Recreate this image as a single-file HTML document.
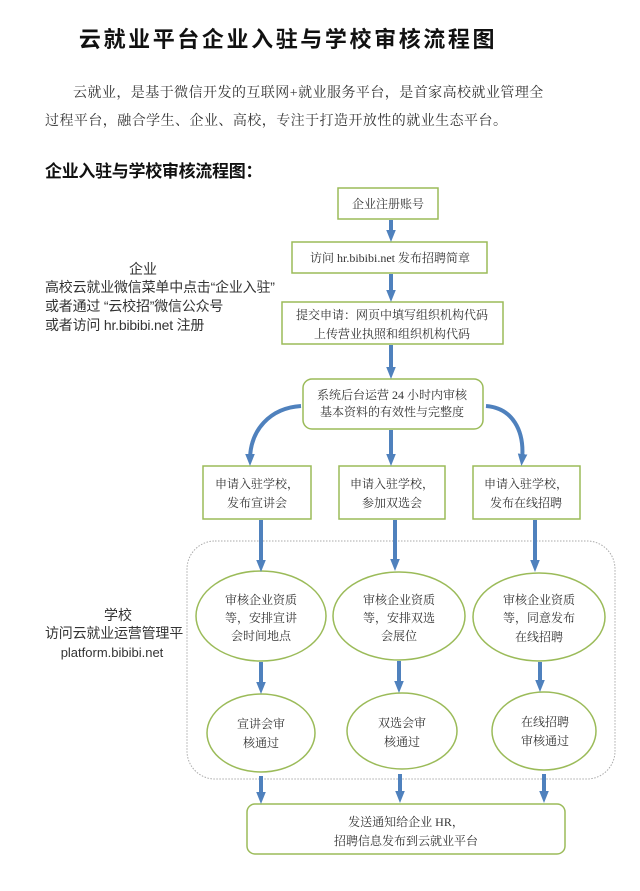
<!DOCTYPE html>
<html><head><meta charset="utf-8"><style>
html,body{margin:0;padding:0;background:#fff;}
body{width:640px;height:891px;overflow:hidden;position:relative;}
svg{position:absolute;left:0;top:0;}
text{font-family:"Liberation Sans","Noto Sans CJK SC",sans-serif;fill:#333;}
.s{font-family:"Liberation Serif","Noto Serif CJK SC",serif;}
</style></head><body>
<svg width="640" height="891" viewBox="0 0 640 891" xmlns="http://www.w3.org/2000/svg">
<defs>
<marker id="ah" markerWidth="3" markerHeight="3" refX="1.5" refY="1.5" orient="auto" markerUnits="strokeWidth">
<path d="M0,0.3 L3,1.5 L0,2.7 z" fill="#4f81bd"/>
</marker>
</defs>
<text x="288" y="47" text-anchor="middle" font-size="22" font-weight="bold" letter-spacing="2.6" style="fill:#111">云就业平台企业入驻与学校审核流程图</text>
<text class="s" x="73" y="97" font-size="14" letter-spacing="0.45">云就业，是基于微信开发的互联网+就业服务平台，是首家高校就业管理全</text>
<text class="s" x="45" y="125" font-size="14" letter-spacing="0.45">过程平台，融合学生、企业、高校，专注于打造开放性的就业生态平台。</text>
<text x="45" y="177" font-size="17" font-weight="bold" letter-spacing="-0.3" style="fill:#111">企业入驻与学校审核流程图：</text>

<text x="143" y="274" text-anchor="middle" font-size="14">企业</text>
<text x="45" y="292" font-size="14" letter-spacing="-0.2">高校云就业微信菜单中点击“企业入驻”</text>
<text x="45" y="311" font-size="14" letter-spacing="-0.2">或者通过 “云校招”微信公众号</text>
<text x="45" y="330" font-size="14" letter-spacing="-0.2">或者访问 hr.bibibi.net 注册</text>

<text x="118" y="620" text-anchor="middle" font-size="14">学校</text>
<text x="45" y="638" font-size="14" letter-spacing="-0.2">访问云就业运营管理平</text>
<text x="112" y="657" text-anchor="middle" font-size="13">platform.bibibi.net</text>

<g fill="#fff" stroke="#9bbb59" stroke-width="1.5">
<rect x="338" y="188" width="100" height="31"/>
<rect x="292" y="242" width="195" height="31"/>
<rect x="282" y="302" width="221" height="42"/>
<rect x="303" y="379" width="180" height="50" rx="9"/>
<rect x="203" y="466" width="108" height="53"/>
<rect x="339" y="466" width="106" height="53"/>
<rect x="473" y="466" width="107" height="53"/>
<rect x="247" y="804" width="318" height="50" rx="8"/>
</g>
<rect x="187" y="541" width="428" height="238" rx="28" fill="none" stroke="#aaa" stroke-width="1" stroke-dasharray="1.5,1.5"/>
<g fill="#fff" stroke="#9bbb59" stroke-width="1.5">
<ellipse cx="261" cy="616" rx="65" ry="45"/>
<ellipse cx="399" cy="616" rx="66" ry="44"/>
<ellipse cx="539" cy="617" rx="66" ry="44"/>
<ellipse cx="261" cy="733" rx="54" ry="39"/>
<ellipse cx="402" cy="731" rx="55" ry="38"/>
<ellipse cx="544" cy="731" rx="52" ry="39"/>
</g>

<g stroke="#4f81bd" stroke-width="4" fill="none" marker-end="url(#ah)">
<line x1="391" y1="220" x2="391" y2="236"/>
<line x1="391" y1="274" x2="391" y2="296"/>
<line x1="391" y1="345" x2="391" y2="373"/>
<line x1="391" y1="430" x2="391" y2="460"/>
<path d="M301,406 C270,408 250,430 250,460"/>
<path d="M486,406 C512,408 525,430 522,460"/>
<line x1="261" y1="520" x2="261" y2="566"/>
<line x1="395" y1="520" x2="395" y2="565"/>
<line x1="535" y1="520" x2="535" y2="566"/>
<line x1="261" y1="662" x2="261" y2="688"/>
<line x1="399" y1="661" x2="399" y2="687"/>
<line x1="540" y1="662" x2="540" y2="686"/>
<line x1="261" y1="776" x2="261" y2="798"/>
<line x1="400" y1="774" x2="400" y2="797"/>
<line x1="544" y1="774" x2="544" y2="797"/>
</g>

<g font-size="12" text-anchor="middle" class="s">
<text class="s" x="388" y="208">企业注册账号</text>
<text class="s" x="390" y="262">访问 hr.bibibi.net 发布招聘简章</text>
<text class="s" x="392" y="319">提交申请：网页中填写组织机构代码</text>
<text class="s" x="392" y="338">上传营业执照和组织机构代码</text>
<text class="s" x="392" y="399">系统后台运营 24 小时内审核</text>
<text class="s" x="392" y="416">基本资料的有效性与完整度</text>
<text class="s" x="257" y="488">申请入驻学校，</text>
<text class="s" x="257" y="507">发布宣讲会</text>
<text class="s" x="392" y="488">申请入驻学校，</text>
<text class="s" x="392" y="507">参加双选会</text>
<text class="s" x="526" y="488">申请入驻学校，</text>
<text class="s" x="526" y="507">发布在线招聘</text>
<text class="s" x="261" y="604">审核企业资质</text>
<text class="s" x="261" y="622">等，安排宣讲</text>
<text class="s" x="261" y="640">会时间地点</text>
<text class="s" x="399" y="604">审核企业资质</text>
<text class="s" x="399" y="622">等，安排双选</text>
<text class="s" x="399" y="640">会展位</text>
<text class="s" x="539" y="604">审核企业资质</text>
<text class="s" x="539" y="622">等，同意发布</text>
<text class="s" x="539" y="641">在线招聘</text>
<text class="s" x="261" y="728">宣讲会审</text>
<text class="s" x="261" y="747">核通过</text>
<text class="s" x="402" y="727">双选会审</text>
<text class="s" x="402" y="746">核通过</text>
<text class="s" x="545" y="726">在线招聘</text>
<text class="s" x="545" y="745">审核通过</text>
<text class="s" x="406" y="826">发送通知给企业 HR，</text>
<text class="s" x="406" y="845">招聘信息发布到云就业平台</text>
</g>
</svg>
</body></html>
